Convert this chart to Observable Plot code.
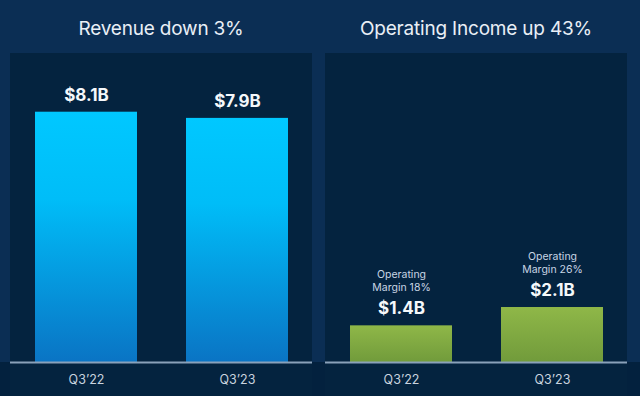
<!DOCTYPE html>
<html>
<head>
<meta charset="utf-8">
<script src="https://cdn.jsdelivr.net/npm/d3@7"></script>
<script src="https://cdn.jsdelivr.net/npm/@observablehq/plot@0.6"></script>
<style>
  html, body { margin: 0; padding: 0; background: #0b2e54; }
  #wrap { position: relative; width: 640px; height: 396px; overflow: hidden; background: #0b2e54; font-family: Inter, "Noto Sans", sans-serif; }
  .bottom { position: absolute; left: 0; top: 362px; width: 640px; height: 34px; background: #03213e; }
  .title { position: absolute; top: 17px; width: 302px; text-align: center; color: #e9eff6; font-size: 19px; line-height: 24px; font-weight: 400; letter-spacing: -0.2px; }
  .panel { position: absolute; top: 53px; }
</style>
</head>
<body>
<div id="wrap">
  <div class="bottom"></div>
  <div class="title" id="t1" style="left:10px"></div>
  <div class="title" id="t2" style="left:325px"></div>
  <div class="panel" id="p1" style="left:10px"></div>
  <div class="panel" id="p2" style="left:325px"></div>
</div>
<script>
const categories = ["Q3\u201922", "Q3\u201923"];
const revenue = [8.1, 7.9];
const revenueLabels = ["$8.1B", "$7.9B"];
const opIncome = [1.4, 2.1];
const opIncomeLabels = ["$1.4B", "$2.1B"];
const opMargin = [18, 26];
const titles = ["Revenue down 3%", "Operating Income up 43%"];

document.getElementById("t1").textContent = titles[0];
document.getElementById("t2").textContent = titles[1];

function gradientDefs(id, stops) {
  return () => {
    const defs = d3.create("svg:defs");
    const g = defs.append("linearGradient").attr("id", id)
      .attr("x1", 0).attr("y1", 0).attr("x2", 0).attr("y2", 1);
    for (const [off, col] of stops) g.append("stop").attr("offset", off).attr("stop-color", col);
    return defs.node();
  };
}

function panel(values, labels, yMax, gradId, stops, margins) {
  const data = categories.map((c, i) => ({cat: c, v: values[i], label: labels[i], margin: margins ? margins[i] : null}));
  const marks = [
    gradientDefs(gradId, stops),
    Plot.barY(data, {x: "cat", y: "v", fill: `url(#${gradId})`}),
    Plot.ruleY([0], {stroke: "#8aa1ba", strokeWidth: 2}),
    Plot.text(data, {x: "cat", y: "v", text: "label", dy: -17, fill: "#f5f8fb", fontSize: 17, fontWeight: "bold"}),
    Plot.axisX({tickSize: 0, tickPadding: 13, fontSize: 12.5, fill: "#c9d3df", label: null})
  ];
  if (margins) {
    marks.push(Plot.text(data, {x: "cat", y: "v", text: () => "Operating", dy: -51, fill: "#c8d5e4", fontSize: 10.5}));
    marks.push(Plot.text(data, {x: "cat", y: "v", text: d => `Margin ${d.margin}%`, dy: -38, fill: "#c8d5e4", fontSize: 10.5}));
  }
  return Plot.plot({
    width: 302, height: 343,
    marginTop: 0, marginBottom: 34, marginLeft: 0, marginRight: 0,
    style: {background: "#04233f", color: "#c9d3df", fontFamily: "Inter, 'Noto Sans', sans-serif", overflow: "visible"},
    x: {domain: categories, paddingInner: 0.327, paddingOuter: 0.16, label: null},
    y: {domain: [0, yMax], axis: null},
    marks
  });
}

document.getElementById("p1").appendChild(panel(revenue, revenueLabels, 10, "gradBlue",
  [["0%", "#00c8ff"], ["35%", "#00bdf8"], ["100%", "#0a74c4"]], null));
document.getElementById("p2").appendChild(panel(opIncome, opIncomeLabels, 11.8, "gradGreen",
  [["0%", "#8fb748"], ["100%", "#719b3b"]], opMargin));
</script>
</body>
</html>
